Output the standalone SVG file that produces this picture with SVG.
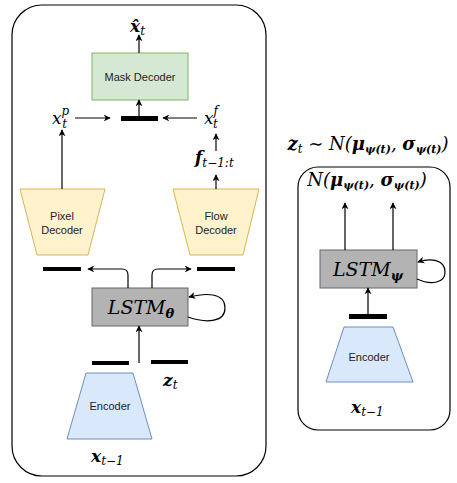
<svg xmlns="http://www.w3.org/2000/svg" width="457" height="483" viewBox="0 0 457 483">
<defs>
<marker id="ah" viewBox="0 0 10 10" refX="9" refY="5" markerWidth="7" markerHeight="7" orient="auto" markerUnits="userSpaceOnUse">
<path d="M0,0 L10,5 L0,10 L3,5 Z" fill="#000"/>
</marker>
<style>
.frame{fill:none;stroke:#000;stroke-width:1.2}
.lbl{font-family:"Liberation Sans",Arial,sans-serif;font-size:11px;fill:#222;text-anchor:middle}
.m{font-family:"DejaVu Serif","Liberation Serif",serif;font-style:italic;fill:#000}
.b{font-weight:bold}
.bar{fill:#000}
.edge{fill:none;stroke:#000;stroke-width:1.2;marker-end:url(#ah)}
.lstm{fill:#b3b3b3;stroke:#666;stroke-width:1}
.enc{fill:#dae8fc;stroke:#6c8ebf;stroke-width:1}
.dec{fill:#fff2cc;stroke:#d6b656;stroke-width:1}
</style>
</defs>
<rect width="457" height="483" fill="#fff"/>

<g id="left-frame"><rect class="frame" x="12" y="5" width="254" height="471" rx="30"/></g>
<g id="right-frame"><rect class="frame" x="298" y="167" width="152" height="263" rx="20"/></g>

<g id="mask-decoder">
<rect x="92" y="53" width="96" height="47" fill="#d5e8d4" stroke="#82b366" stroke-width="1"/>
<text class="lbl" x="140" y="81">Mask Decoder</text>
</g>
<g id="xhat"><text class="m" x="130" y="32" font-size="17"><tspan class="b">x̂</tspan><tspan font-size="12" dy="3">t</tspan></text></g>
<g id="bar-mask"><rect class="bar" x="121" y="116" width="37" height="5"/></g>
<g id="xp"><text class="m" x="52" y="124" font-size="17">x<tspan font-size="12" dy="-9">p</tspan><tspan font-size="12" dx="-7" dy="13">t</tspan></text></g>
<g id="xf"><text class="m" x="204" y="124" font-size="17">x<tspan font-size="12" dy="-9">f</tspan><tspan font-size="12" dx="-5" dy="13">t</tspan></text></g>
<g id="f"><text class="m" x="195" y="163" font-size="17"><tspan class="b">f</tspan><tspan font-size="12" dy="4">t−1:t</tspan></text></g>

<g id="pixel-decoder">
<polygon class="dec" points="20,189 105,189 88,255 37,255"/>
<text class="lbl" x="62" y="220">Pixel</text>
<text class="lbl" x="62" y="234">Decoder</text>
</g>
<g id="flow-decoder">
<polygon class="dec" points="173,189 259,189 243,255 190,255"/>
<text class="lbl" x="216" y="220">Flow</text>
<text class="lbl" x="216" y="234">Decoder</text>
</g>
<g id="bar-pixel"><rect class="bar" x="43" y="267" width="38" height="4"/></g>
<g id="bar-flow"><rect class="bar" x="197" y="267" width="38" height="4"/></g>

<g id="lstm-theta">
<rect class="lstm" x="92" y="288" width="96" height="38"/>
<text class="m" x="141" y="314" font-size="19" text-anchor="middle">LSTM<tspan class="b" font-size="13" dy="4">θ</tspan></text>
</g>
<g id="bar-enc-l"><rect class="bar" x="92" y="361" width="37" height="4"/></g>
<g id="bar-enc-r"><rect class="bar" x="151" y="360" width="37" height="4"/></g>
<g id="zt"><text class="m" x="163" y="386" font-size="17"><tspan class="b">z</tspan><tspan font-size="12" dy="3">t</tspan></text></g>
<g id="encoder-left">
<polygon class="enc" points="86,373 133,373 152,439 67,439"/>
<text class="lbl" x="110" y="410">Encoder</text>
</g>
<g id="x-left"><text class="m" x="91" y="462" font-size="17"><tspan class="b">x</tspan><tspan font-size="12" dy="3">t−1</tspan></text></g>

<g id="title"><text class="m" x="368" y="150" font-size="18" text-anchor="middle"><tspan class="b">z</tspan><tspan font-size="12" dy="3">t</tspan><tspan dy="-3" font-style="normal"> ∼ </tspan>N(<tspan class="b">μ</tspan><tspan class="b" font-size="11" dy="3">ψ(t)</tspan><tspan dy="-3">, </tspan><tspan class="b">σ</tspan><tspan class="b" font-size="11" dy="3">ψ(t)</tspan><tspan dy="-3">)</tspan></text></g>
<g id="dist"><text class="m" x="367" y="186" font-size="18" text-anchor="middle">N(<tspan class="b">μ</tspan><tspan class="b" font-size="11" dy="3">ψ(t)</tspan><tspan dy="-3">, </tspan><tspan class="b">σ</tspan><tspan class="b" font-size="11" dy="3">ψ(t)</tspan><tspan dy="-3">)</tspan></text></g>
<g id="lstm-psi">
<rect class="lstm" x="320" y="250" width="97" height="38"/>
<text class="m" x="368" y="276" font-size="19" text-anchor="middle">LSTM<tspan class="b" font-size="13" dy="4">ψ</tspan></text>
</g>
<g id="bar-psi"><rect class="bar" x="349" y="314" width="38" height="5"/></g>
<g id="encoder-right">
<polygon class="enc" points="344,327 393,327 413,382 326,382"/>
<text class="lbl" x="369" y="361">Encoder</text>
</g>
<g id="x-right"><text class="m" x="351" y="413" font-size="17"><tspan class="b">x</tspan><tspan font-size="12" dy="3">t−1</tspan></text></g>

<g id="connectors">
<line class="edge" x1="139" y1="53" x2="139" y2="35"/>
<line class="edge" x1="139" y1="116" x2="139" y2="100"/>
<line class="edge" x1="75" y1="118" x2="110" y2="118"/>
<line class="edge" x1="197" y1="118" x2="163" y2="118"/>
<line class="edge" x1="216" y1="151" x2="216" y2="134"/>
<line class="edge" x1="216" y1="189" x2="216" y2="175"/>
<line class="edge" x1="62" y1="189" x2="62" y2="130"/>
<path class="edge" d="M128,288 V275 Q128,269 122,269 H88"/>
<path class="edge" d="M152,288 V275 Q152,269 158,269 H191"/>
<path class="edge" d="M188,317 C205,323 225,323 225,308 C225,292 205,293 189,297"/>
<line class="edge" x1="139" y1="363" x2="139" y2="326"/>
<line class="edge" x1="345" y1="250" x2="345" y2="203"/>
<line class="edge" x1="393" y1="250" x2="393" y2="203"/>
<path class="edge" d="M417,279 C430,285 445,284 445,272 C445,259 430,258 418,262"/>
<line class="edge" x1="368" y1="314" x2="368" y2="288"/>
</g>
</svg>
